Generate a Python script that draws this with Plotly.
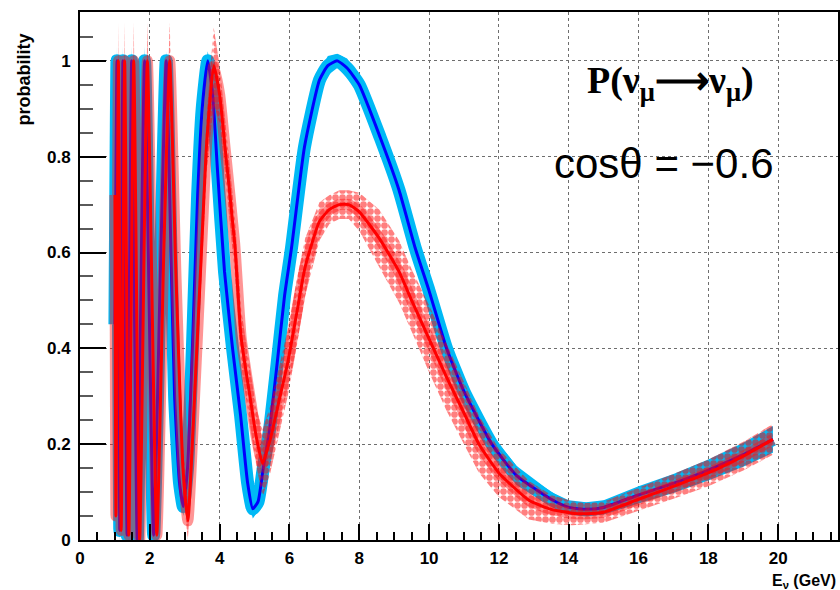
import plotly.graph_objects as go

# ---------------- data ----------------
blue_E = [1.00, 1.06, 1.14, 1.23, 1.35, 1.48, 1.64, 1.85, 2.11, 2.30, 2.47, 2.60, 2.71, 2.85,
          2.96, 3.08, 3.22, 3.37, 3.50, 3.66, 3.80, 3.94, 4.14, 4.37, 4.60, 4.80, 4.95, 5.10,
          5.25, 5.43, 5.65, 5.86, 6.06, 6.43, 6.86, 7.10, 7.37, 7.65, 8.00, 8.60, 9.14, 9.60,
          10.0, 10.5, 11.0, 11.8, 12.5, 13.5, 14.0, 14.5, 15.0, 16.0, 17.0, 18.0, 19.0, 19.85]
blue_P = [0.45, 1.00, 0.02, 1.00, 0.01, 1.00, 0.00, 1.00, 0.01, 0.55, 1.00, 0.62, 0.30, 0.12,
          0.07, 0.15, 0.40, 0.72, 0.90, 1.00, 0.93, 0.77, 0.56, 0.40, 0.26, 0.12, 0.065, 0.08,
          0.15, 0.23, 0.37, 0.51, 0.61, 0.82, 0.96, 0.99, 1.00, 0.985, 0.95, 0.84, 0.73, 0.61,
          0.52, 0.40, 0.31, 0.20, 0.135, 0.085, 0.068, 0.064, 0.068, 0.094, 0.118, 0.146, 0.178, 0.21]
blue_err = [0.03, 0.03, 0.03, 0.03, 0.03, 0.03, 0.03, 0.03, 0.03, 0.03, 0.02, 0.03, 0.03, 0.03,
            0.02, 0.03, 0.03, 0.03, 0.03, 0.02, 0.03, 0.03, 0.03, 0.03, 0.03, 0.03, 0.02, 0.02,
            0.03, 0.03, 0.03, 0.03, 0.03, 0.03, 0.02, 0.02, 0.015, 0.02, 0.02, 0.025, 0.025, 0.025,
            0.025, 0.025, 0.025, 0.02, 0.02, 0.015, 0.015, 0.015, 0.015, 0.018, 0.02, 0.022, 0.025, 0.028]

red_E = [1.00, 1.03, 1.10, 1.18, 1.28, 1.40, 1.54, 1.71, 1.93, 2.20, 2.40, 2.57, 2.75, 2.95,
         3.09, 3.25, 3.49, 3.63, 3.83, 4.00, 4.14, 4.43, 4.62, 4.90, 5.05, 5.23, 5.45, 5.70,
         5.95, 6.20, 6.45, 6.86, 7.15, 7.43, 7.70, 8.00, 8.57, 9.14, 9.50, 10.0, 10.5, 11.0,
         11.43, 12.0, 12.86, 13.5, 14.1, 14.5, 15.0, 16.0, 17.0, 18.0, 19.0, 19.85]
red_P = [0.72, 0.05, 1.00, 0.02, 1.00, 0.01, 1.00, 0.00, 1.00, 0.01, 0.60, 1.00, 0.55, 0.15,
         0.04, 0.25, 0.62, 0.83, 0.99, 0.93, 0.83, 0.62, 0.42, 0.285, 0.215, 0.16, 0.21, 0.29,
         0.37, 0.47, 0.57, 0.665, 0.69, 0.70, 0.70, 0.685, 0.63, 0.56, 0.50, 0.42, 0.34, 0.265,
         0.20, 0.14, 0.083, 0.064, 0.056, 0.055, 0.058, 0.085, 0.112, 0.14, 0.175, 0.21]
red_err = [0.05, 0.05, 0.08, 0.05, 0.08, 0.05, 0.08, 0.05, 0.08, 0.05, 0.06, 0.08, 0.06, 0.05,
           0.04, 0.06, 0.06, 0.06, 0.08, 0.06, 0.06, 0.06, 0.06, 0.06, 0.06, 0.07, 0.07, 0.07,
           0.07, 0.07, 0.06, 0.04, 0.03, 0.03, 0.03, 0.04, 0.06, 0.065, 0.065, 0.07, 0.07, 0.065,
           0.06, 0.05, 0.04, 0.03, 0.025, 0.022, 0.022, 0.024, 0.026, 0.028, 0.03, 0.032]

x_ticks = [0, 2, 4, 6, 8, 10, 12, 14, 16, 18, 20]
y_ticks = [0, 0.2, 0.4, 0.6, 0.8, 1.0]
y_labels = ["0", "0.2", "0.4", "0.6", "0.8", "1"]

# ---------------- figure ----------------
LIGHT_BLUE = "rgb(0,185,245)"
fig = go.Figure()


def band(E, P, err):
    hi = [p + e for p, e in zip(P, err)]
    lo = [p - e for p, e in zip(P, err)]
    return list(E) + list(E)[::-1], hi + lo[::-1]


bx, by = band(blue_E, blue_P, blue_err)
fig.add_trace(go.Scatter(x=bx, y=by, fill="toself", mode="none",
                         fillcolor=LIGHT_BLUE, hoverinfo="skip", showlegend=False))
fig.add_trace(go.Scatter(x=blue_E, y=blue_P, mode="lines",
                         line=dict(color=LIGHT_BLUE, width=13, shape="spline", smoothing=0.5),
                         showlegend=False))
fig.add_trace(go.Scatter(x=blue_E, y=blue_P, mode="lines",
                         line=dict(color="rgb(0,0,255)", width=3, shape="spline", smoothing=0.5),
                         showlegend=False))

rx, ry = band(red_E, red_P, red_err)
fig.add_trace(go.Scatter(x=rx, y=ry, fill="toself", mode="none",
                         fillcolor="rgba(255,0,0,0.0)",
                         fillpattern=dict(shape=".", fgcolor="rgb(255,0,0)",
                                          bgcolor="rgba(255,255,255,0)",
                                          size=7, solidity=0.72),
                         hoverinfo="skip", showlegend=False))
fig.add_trace(go.Scatter(x=red_E, y=red_P, mode="lines",
                         line=dict(color="rgba(255,20,20,0.45)", width=11, shape="spline",
                                   smoothing=0.5),
                         showlegend=False))
fig.add_trace(go.Scatter(x=red_E, y=red_P, mode="lines",
                         line=dict(color="rgb(255,0,0)", width=3, shape="spline", smoothing=0.5),
                         showlegend=False))

tickfont = dict(family="Liberation Sans", size=17, color="black", weight="bold")
GRID = "rgb(110,110,110)"

fig.update_xaxes(range=[0, 21.714], tickvals=x_ticks, ticks="inside", ticklen=16,
                 tickwidth=2, tickcolor="black", showline=True, linecolor="black",
                 linewidth=2, mirror=True, showgrid=True, gridcolor=GRID,
                 griddash="dot", gridwidth=1, zeroline=False, tickfont=tickfont,
                 ticklabelstandoff=2,
                 minor=dict(dtick=0.5, ticks="inside", ticklen=8, tickwidth=1.5,
                            tickcolor="black", showgrid=False))
fig.update_yaxes(range=[0, 1.102], tickvals=y_ticks, ticktext=y_labels, ticks="inside",
                 ticklen=26, tickwidth=2, tickcolor="black", showline=True,
                 linecolor="black", linewidth=2, mirror=True, showgrid=True,
                 gridcolor=GRID, griddash="dot", gridwidth=1, zeroline=False,
                 tickfont=tickfont, ticklabelstandoff=4,
                 minor=dict(dtick=0.05, ticks="inside", ticklen=13, tickwidth=1.5,
                            tickcolor="rgb(90,90,90)", showgrid=False))

fig.update_layout(
    width=840, height=590,
    margin=dict(l=80, r=0, t=12, b=50),
    paper_bgcolor="white", plot_bgcolor="white",
    annotations=[
        dict(text="probability", xref="paper", yref="paper", x=-0.074, y=0.872,
             xanchor="center", yanchor="middle", textangle=-90, showarrow=False,
             font=dict(family="Liberation Sans", size=18, color="black", weight="bold")),
        dict(text="E<sub>ν</sub> (GeV)", xref="paper", yref="paper", x=1.0, y=-0.079,
             xanchor="right", yanchor="middle", showarrow=False,
             font=dict(family="Liberation Sans", size=16, color="black", weight="bold")),
        dict(text="P(ν<sub>μ</sub>⟶ν<sub>μ</sub>)", xref="paper", yref="paper",
             x=0.779, y=0.866, xanchor="center", yanchor="middle", showarrow=False,
             font=dict(family="Liberation Serif", size=38, color="black", weight="bold")),
        dict(text="cosθ = −0.6", xref="paper", yref="paper", x=0.771, y=0.714,
             xanchor="center", yanchor="middle", showarrow=False,
             font=dict(family="Liberation Sans", size=42, color="black")),
    ],
)

fig.write_html("out.html")
